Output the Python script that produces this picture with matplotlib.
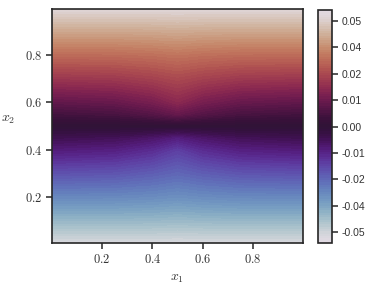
import numpy as np
import matplotlib
matplotlib.use("Agg")
import matplotlib.pyplot as plt

plt.rcParams['mathtext.fontset'] = 'cm'

# grid nodes and field values z[x2, x1]
x1_nodes = [0.0, 0.25, 0.4, 0.5, 0.6, 0.75, 1.0]
x2_nodes = [0.0, 0.1, 0.2, 0.3, 0.4, 0.45, 0.5, 0.55, 0.6, 0.7, 0.8, 0.9, 1.0]
z_rows = [
    [-0.050, -0.050, -0.050, -0.050, -0.050, -0.050, -0.050],
    [-0.040, -0.040, -0.0402, -0.0406, -0.0402, -0.040, -0.040],
    [-0.030, -0.0302, -0.0308, -0.0316, -0.0308, -0.0302, -0.030],
    [-0.020, -0.0206, -0.0222, -0.0238, -0.0222, -0.0206, -0.020],
    [-0.010, -0.0110, -0.0135, -0.0168, -0.0135, -0.0110, -0.010],
    [-0.005, -0.0060, -0.0082, -0.0108, -0.0082, -0.0060, -0.005],
    [0.000, 0.000, 0.000, 0.000, 0.000, 0.000, 0.000],
    [0.005, 0.0060, 0.0082, 0.0108, 0.0082, 0.0060, 0.005],
    [0.010, 0.0110, 0.0135, 0.0168, 0.0135, 0.0110, 0.010],
    [0.020, 0.0206, 0.0222, 0.0238, 0.0222, 0.0206, 0.020],
    [0.030, 0.0302, 0.0308, 0.0316, 0.0308, 0.0302, 0.030],
    [0.040, 0.040, 0.0402, 0.0406, 0.0402, 0.040, 0.040],
    [0.050, 0.050, 0.050, 0.050, 0.050, 0.050, 0.050],
]
zmin, zmax = -0.053, 0.053
cbar_ticks = np.linspace(-0.048, 0.048, 9)
cbar_labels = ['-0.05', '-0.04', '-0.02', '-0.01', '0.00', '0.01', '0.02', '0.04', '0.05']
xticks = [0.2, 0.4, 0.6, 0.8]
yticks = [0.2, 0.4, 0.6, 0.8]

z = np.array(z_rows)
dark = '#262626'

fig = plt.figure(figsize=(3.73, 2.87), dpi=100)
ax = fig.add_axes([0.1394, 0.1533, 0.673, 0.8153])
cax = fig.add_axes([0.8525, 0.1533, 0.0375, 0.8117])

levels = np.linspace(zmin, zmax, 101)
cs = ax.contourf(x1_nodes, x2_nodes, z, levels=levels, cmap='twilight')
ax.set_xlim(0.002, 0.998)
ax.set_ylim(0.003, 0.997)

ax.set_xticks(xticks)
ax.set_yticks(yticks)
ax.set_xticklabels(['$%.1f$' % v for v in xticks])
ax.set_yticklabels(['$%.1f$' % v for v in yticks])
ax.tick_params(length=4, width=1.1, color=dark, labelsize=9, labelcolor='#333333', pad=3)
for s in ax.spines.values():
    s.set_color(dark)
    s.set_linewidth(1.2)
ax.set_xlabel('$x_1$', fontsize=10, color='#333333', labelpad=4)
ax.set_ylabel('$x_2$', fontsize=10, color='#333333', rotation=0, labelpad=12)

cb = fig.colorbar(cs, cax=cax)
cb.set_ticks(cbar_ticks)
cb.set_ticklabels(cbar_labels)
cax.tick_params(length=4, width=1.1, color=dark, labelsize=7.5, labelcolor='#333333', pad=3)
for lab in cax.get_yticklabels():
    lab.set_family('Liberation Sans')
cb.outline.set_edgecolor(dark)
cb.outline.set_linewidth(1.2)

fig.savefig('out.png', dpi=100)
